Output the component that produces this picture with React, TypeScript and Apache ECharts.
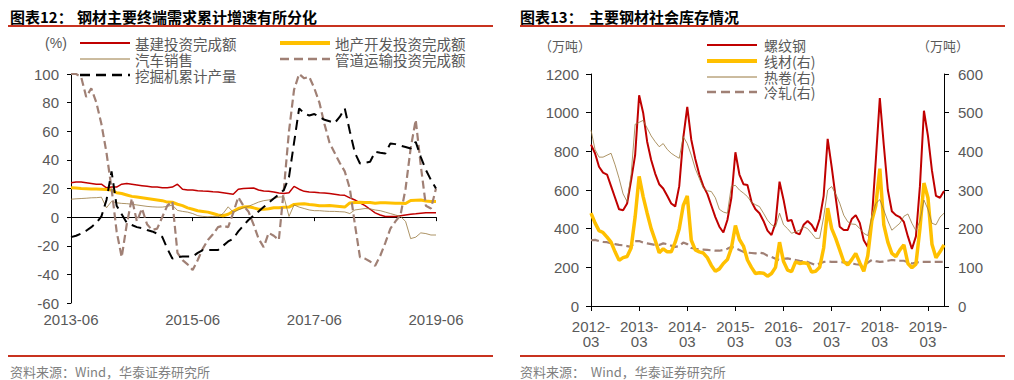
import React, { useEffect, useRef } from "react";
import * as echarts from "echarts";

// ---------- categories ----------
function monthSeq(y0: number, m0: number, count: number): string[] {
  const out: string[] = [];
  let y = y0;
  let m = m0;
  for (let i = 0; i < count; i++) {
    out.push(`${y}-${m < 10 ? "0" + m : m}`);
    m++;
    if (m > 12) {
      m = 1;
      y++;
    }
  }
  return out;
}
const leftMonths = monthSeq(2013, 6, 73); // 2013-06 .. 2019-06
const rightMonths = monthSeq(2012, 3, 89); // 2012-03 .. 2019-07

// ---------- left chart: cumulative growth (%) ----------
const infraInvest = [24, 24.5, 24.5, 24, 23.5, 23, 23, 20.5, 21, 21, 23, 23.5, 23, 22.5, 22, 21.5, 21, 21, 20.5, 20.5, 21, 23, 19.5, 19, 19, 18.5, 18.2, 18, 17.7, 17.5, 17, 16.5, 16, 19.5, 20, 20.2, 20.4, 19, 18.2, 18, 17.5, 16.8, 16.5, 17, 21.5, 19.5, 18, 17.5, 17.3, 17, 16.8, 16.5, 16, 15.5, 15.2, 13.5, 12, 10, 8, 5.5, 3, 1.5, 0.5, 0.5, 0.5, 1, 1.5, 2, 2.3, 2.7, 3, 3, 3];
const realEstateInvest = [20.5, 20.3, 20, 19.8, 19.6, 19.6, 19.5, 19.3, 19, 17, 16.5, 15.5, 14.5, 14, 13.5, 13, 12.5, 12, 11.5, 10.5, 10.4, 9, 8, 6.5, 5.5, 4.5, 4, 3.5, 2.5, 1.5, 1, 2, 4, 6, 7, 7.2, 6.5, 5.5, 5.5, 5.8, 6.5, 6.6, 6.9, 7, 8.9, 9.1, 9.3, 8.8, 8.5, 7.9, 8, 8.1, 7.8, 7.5, 7, 9.9, 10.2, 10.4, 10.3, 10.2, 9.7, 10, 10.1, 9.9, 9.7, 9.7, 9.5, 11.6, 11.8, 11.9, 11.2, 11, 10.9];
const autoSales = [12.5, 12.8, 13, 13.2, 13.5, 13.6, 13.9, 6.5, 11, 10, 9.6, 9.4, 9, 8.5, 8, 7.5, 7.2, 7, 7, 7.5, 8.4, 4.7, 4, 3.5, 2.5, 1, 0.5, 0.3, 0.5, 0.3, 2.5, 7.2, 3.5, 5, 6.5, 7.5, 9, 10.5, 11.5, 12, 13, 14, 14.2, 0.5, 8.5, 7, 6, 5, 4.5, 4.5, 4.2, 4, 4, 3.8, 3.6, 2.5, 5, 5.5, 6, 5.8, 5, 4.5, 3.5, 2.5, 1.5, 0.5, -3, -15, -14, -11, -11.5, -12.5, -12.5];
const pipelineInvest = [100, 100, 98, 84, 90, 80, 65, 45, 20, -10, -28, -5, 13, -3, 6, -5, -9, -8, 0, 8, 11, -25, -30, -33, -37, -30, -22, -16, -12, -7, -6, -7, 3, 14, 8, 4, -5, -15, -21, -11, -13, -16, 20, 60, 89, 100, 97, 98, 90, 80, 65, 52, 45, 38, 32, 20, -5, -28, -29, -31, -34, -27, -18, -8, -3, 1.4, 20, 48, 68, 36, 8, 6, 20];
const excavatorOutput = [-14, -13, -11.5, -9.5, -7, -4, 0.5, 12, 32, 8, 2, -4, -5.5, -7, -7.7, -9, -10, -11.5, -13.8, -22, -29, -28, -27.5, -27.5, -27.5, -25, -23, -23, -23, -23, -20, -17, -15, -10, -6, -2, 1, 4, 7, 10, 13, 16, 19, 28, 52, 76, 72.5, 71, 72, 70, 68, 67, 65.7, 70, 76, 60, 45, 37.5, 38, 38.7, 45.7, 45, 44.5, 51.5, 51, 50, 49, 48, 52.6, 42, 33, 26, 20];

// ---------- right chart: social inventory (10k tonnes) ----------
const rebar = [835, 790, 720, 690, 680, 620, 560, 500, 495, 530, 650, 780, 1090, 1000, 850, 755, 685, 630, 608, 570, 530, 515, 620, 870, 1030, 860, 760, 680, 620, 580, 520, 460, 410, 380, 445, 560, 795, 680, 630, 626, 540, 500, 480, 440, 390, 367, 430, 643, 550, 440, 445, 380, 370, 420, 440, 420, 385, 450, 570, 865, 720, 560, 410, 393, 393, 450, 470, 430, 340, 305, 445, 755, 1075, 830, 600, 490, 470, 460, 435, 360, 295, 360, 620, 1010, 880, 700, 570, 560, 595];
const wireRod = [240, 215, 195, 190, 178, 165, 140, 118, 125, 128, 150, 230, 335, 283, 240, 200, 170, 138, 148, 140, 140, 165, 200, 260, 285, 170, 145, 140, 137, 125, 105, 90, 96, 110, 120, 150, 208, 172, 155, 119, 100, 84, 86, 85, 77, 84, 100, 165, 115, 93, 89, 114, 110, 112, 110, 88, 90, 100, 150, 253, 200, 175, 145, 115, 106, 120, 136, 112, 90, 130, 220, 260, 355, 210, 165, 136, 128, 145, 158, 110, 99, 108, 200, 318, 280, 160, 125, 140, 158];
const hotRolled = [455, 405, 385, 385, 390, 395, 365, 330, 290, 270, 340, 470, 475, 480, 460, 440, 425, 412, 420, 405, 395, 388, 382, 438, 420, 390, 355, 330, 305, 298, 296, 280, 250, 243, 240, 310, 312, 300, 292, 283, 268, 262, 257, 240, 222, 210, 205, 240, 210, 200, 188, 192, 196, 205, 200, 188, 175, 175, 230, 300, 309, 290, 266, 235, 218, 212, 211, 200, 188, 182, 230, 265, 275, 248, 220, 196, 205, 214, 232, 238, 214, 195, 220, 274, 250, 214, 210, 230, 240];
const coldRolled = [170, 171, 168, 166, 165, 162, 160, 158, 157, 155, 153, 168, 168, 164, 162, 160, 158, 158, 162, 160, 156, 153, 155, 164, 160, 150, 148, 147, 146, 145, 144, 143, 143, 145, 148, 153, 150, 145, 140, 138, 137, 136, 138, 136, 130, 127, 122, 119, 122, 123, 121, 119, 117, 116, 114, 110, 106, 110, 114, 115, 114, 114, 114, 113, 112, 110, 108, 107, 106, 112, 119, 116, 114, 115, 117, 119, 118, 117, 117, 113, 110, 112, 114, 114, 114, 114, 114, 114, 114];

// ---------- axis ticks ----------
const leftYTicks = { min: -60, max: 100, interval: 20 };
const rightYLeftTicks = { min: 0, max: 1200, interval: 200 };
const rightYRightTicks = { min: 0, max: 600, interval: 100 };

const RED = "#C00000";
const GOLD = "#FFC000";
const OLIVE = "#98793F";
const BROWN = "#A08075";
const LABEL = "#595959";
const RULE = "#C8321F";
const NUM_FONT = "'Liberation Sans', Arial, sans-serif";
const CJK_FONT = "'Noto Sans CJK SC', sans-serif";

type LegendEntry = { name: string; color: string; width: number; dash?: number[] };
const leftLegend: LegendEntry[] = [
  { name: "基建投资完成额", color: RED, width: 2 },
  { name: "地产开发投资完成额", color: GOLD, width: 4 },
  { name: "汽车销售", color: OLIVE, width: 1 },
  { name: "管道运输投资完成额", color: BROWN, width: 2.5, dash: [9, 5] },
  { name: "挖掘机累计产量", color: "#000", width: 2.5, dash: [10, 6] },
];
const rightLegend: LegendEntry[] = [
  { name: "螺纹钢", color: RED, width: 2 },
  { name: "线材(右)", color: GOLD, width: 4 },
  { name: "热卷(右)", color: OLIVE, width: 1 },
  { name: "冷轧(右)", color: BROWN, width: 2.5, dash: [9, 5] },
];

function legendGraphic(e: LegendEntry, x: number, y: number, fontSize: number, textGap: number) {
  return [
    {
      type: "line",
      shape: { x1: x, y1: y, x2: x + 50, y2: y },
      style: { stroke: e.color, lineWidth: e.width, lineDash: e.dash || null },
    },
    {
      type: "text",
      x: x + 50 + textGap,
      y,
      style: {
        text: e.name,
        fontSize,
        lineHeight: 15,
        fontFamily: CJK_FONT,
        fill: LABEL,
        verticalAlign: "middle",
      },
    },
  ];
}

export default function App() {
  const ref = useRef<HTMLDivElement>(null);

  useEffect(() => {
    if (!ref.current) return;
    const chart = echarts.init(ref.current, undefined, { renderer: "svg" });

    const axisLabel = { fontSize: 15, color: LABEL, fontFamily: NUM_FONT };
    const blackLine = { show: true, lineStyle: { color: "#000", width: 1 } };
    const plain = (v: number) => String(v);

    const legendPos = [
      [80, 43],
      [280, 43],
      [80, 59],
      [280, 59],
      [80, 75],
    ];
    const rightLegendY = [45, 61, 77, 92];

    const option: any = {
      animation: false,
      textStyle: { fontFamily: NUM_FONT },
      grid: [
        { left: 71, top: 74, width: 365, height: 229, outerBoundsMode: "none", containLabel: false },
        { left: 591, top: 74, width: 353, height: 232, outerBoundsMode: "none", containLabel: false },
      ],
      xAxis: [
        {
          // axis line at zero with ticks
          type: "category",
          gridIndex: 0,
          data: leftMonths,
          boundaryGap: false,
          axisLine: { ...blackLine, onZero: true },
          axisTick: { show: true, interval: 23, length: 4, lineStyle: { color: "#000" } },
          axisLabel: { show: false },
          splitLine: { show: false },
        },
        {
          // labels along the bottom of the plot
          type: "category",
          gridIndex: 0,
          position: "bottom",
          data: leftMonths,
          boundaryGap: false,
          axisLine: { show: false, onZero: false },
          axisTick: { show: false },
          axisLabel: { ...axisLabel, interval: 23, margin: 9 },
          splitLine: { show: false },
        },
        {
          type: "category",
          gridIndex: 1,
          data: rightMonths,
          boundaryGap: false,
          axisLine: { ...blackLine, onZero: false },
          axisTick: { show: true, interval: 11, length: 5, lineStyle: { color: "#000" } },
          axisLabel: {
            ...axisLabel,
            interval: 11,
            margin: 13,
            lineHeight: 15,
            formatter: (v: string) => v.replace("-", "-\n"),
          },
          splitLine: { show: false },
        },
      ],
      yAxis: [
        {
          type: "value",
          gridIndex: 0,
          ...leftYTicks,
          axisLine: blackLine,
          axisTick: { show: true, length: 4, lineStyle: { color: "#000" } },
          axisLabel: { ...axisLabel, margin: 12, formatter: plain },
          splitLine: { show: false },
        },
        {
          type: "value",
          gridIndex: 1,
          position: "left",
          ...rightYLeftTicks,
          axisLine: { ...blackLine, onZero: false },
          axisTick: { show: true, length: 5, lineStyle: { color: "#000" } },
          axisLabel: { ...axisLabel, margin: 12, formatter: plain },
          splitLine: { show: false },
        },
        {
          type: "value",
          gridIndex: 1,
          position: "right",
          ...rightYRightTicks,
          axisLine: { ...blackLine, onZero: false },
          axisTick: { show: true, length: 5, lineStyle: { color: "#000" } },
          axisLabel: { ...axisLabel, margin: 14, formatter: plain },
          splitLine: { show: false },
        },
      ],
      series: [
        { name: "基建投资完成额", type: "line", xAxisIndex: 0, yAxisIndex: 0, data: infraInvest, symbol: "none", clip: true, lineStyle: { color: RED, width: 1.5 }, itemStyle: { color: RED } },
        { name: "地产开发投资完成额", type: "line", xAxisIndex: 0, yAxisIndex: 0, data: realEstateInvest, symbol: "none", clip: true, lineStyle: { color: GOLD, width: 3 }, itemStyle: { color: GOLD } },
        { name: "汽车销售", type: "line", xAxisIndex: 0, yAxisIndex: 0, data: autoSales, symbol: "none", clip: true, lineStyle: { color: OLIVE, width: 0.8 }, itemStyle: { color: OLIVE } },
        { name: "管道运输投资完成额", type: "line", xAxisIndex: 0, yAxisIndex: 0, data: pipelineInvest, symbol: "none", clip: true, lineStyle: { color: BROWN, width: 2.2, type: [8, 4] }, itemStyle: { color: BROWN } },
        { name: "挖掘机累计产量", type: "line", xAxisIndex: 0, yAxisIndex: 0, data: excavatorOutput, symbol: "none", clip: true, lineStyle: { color: "#000", width: 2, type: [10, 6] }, itemStyle: { color: "#000" } },

        { name: "螺纹钢", type: "line", xAxisIndex: 2, yAxisIndex: 1, data: rebar, symbol: "none", clip: true, lineStyle: { color: RED, width: 2 }, itemStyle: { color: RED } },
        { name: "冷轧(右)", type: "line", xAxisIndex: 2, yAxisIndex: 2, data: coldRolled, symbol: "none", clip: true, lineStyle: { color: BROWN, width: 2.2, type: [8, 4] }, itemStyle: { color: BROWN } },
        { name: "线材(右)", type: "line", xAxisIndex: 2, yAxisIndex: 2, data: wireRod, symbol: "none", clip: true, lineStyle: { color: GOLD, width: 3.5 }, itemStyle: { color: GOLD } },
        { name: "热卷(右)", type: "line", xAxisIndex: 2, yAxisIndex: 2, data: hotRolled, symbol: "none", clip: true, lineStyle: { color: OLIVE, width: 0.8 }, itemStyle: { color: OLIVE } },
      ],
      graphic: [
        { type: "text", x: 10, y: 16, style: { text: "图表12：", fontSize: 15, fontWeight: "bold", fontFamily: CJK_FONT, fill: "#000", verticalAlign: "middle" } },
        { type: "text", x: 77, y: 16, style: { text: "钢材主要终端需求累计增速有所分化", fontSize: 15, fontWeight: "bold", fontFamily: CJK_FONT, fill: "#000", verticalAlign: "middle" } },
        { type: "line", shape: { x1: 8, y1: 26, x2: 493, y2: 26 }, style: { stroke: RULE, lineWidth: 2 } },
        { type: "text", x: 56, y: 43, style: { text: "(%)", fontSize: 14, fontFamily: NUM_FONT, fill: LABEL, align: "center", verticalAlign: "middle" } },
        { type: "line", shape: { x1: 8, y1: 356, x2: 493, y2: 356 }, style: { stroke: RULE, lineWidth: 2 } },
        { type: "text", x: 10, y: 371, style: { text: "资料来源：Wind，华泰证券研究所", fontSize: 13, fontFamily: CJK_FONT, fill: "#7F7F7F", verticalAlign: "middle" } },

        { type: "text", x: 520, y: 16, style: { text: "图表13：", fontSize: 15, fontWeight: "bold", fontFamily: CJK_FONT, fill: "#000", verticalAlign: "middle" } },
        { type: "text", x: 589, y: 16, style: { text: "主要钢材社会库存情况", fontSize: 15, fontWeight: "bold", fontFamily: CJK_FONT, fill: "#000", verticalAlign: "middle" } },
        { type: "line", shape: { x1: 520, y1: 26, x2: 1005, y2: 26 }, style: { stroke: RULE, lineWidth: 2 } },
        { type: "text", x: 565, y: 45, style: { text: "（万吨）", fontSize: 13, fontFamily: CJK_FONT, fill: LABEL, align: "center", verticalAlign: "middle" } },
        { type: "text", x: 943, y: 45, style: { text: "（万吨）", fontSize: 13, fontFamily: CJK_FONT, fill: LABEL, align: "center", verticalAlign: "middle" } },
        { type: "line", shape: { x1: 520, y1: 356, x2: 1005, y2: 356 }, style: { stroke: RULE, lineWidth: 2 } },
        { type: "text", x: 520, y: 371, style: { text: "资料来源：  Wind，华泰证券研究所", fontSize: 13, fontFamily: CJK_FONT, fill: "#7F7F7F", verticalAlign: "middle" } },

        ...leftLegend.flatMap((e, i) => legendGraphic(e, legendPos[i][0], legendPos[i][1], 14.5, 5)),
        ...rightLegend.flatMap((e, i) => legendGraphic(e, 707, rightLegendY[i], 14, 7)),
      ],
    };

    chart.setOption(option);
    return () => chart.dispose();
  }, []);

  return (
    <div
      ref={ref}
      style={{ position: "absolute", left: 0, top: 0, width: 1014, height: 380, background: "#fff" }}
    />
  );
}
